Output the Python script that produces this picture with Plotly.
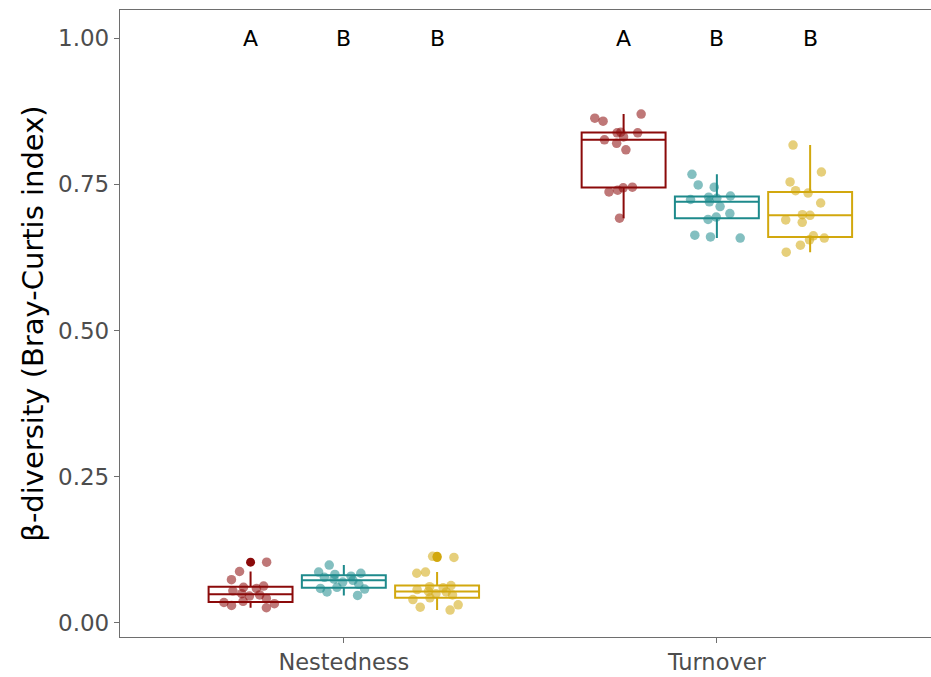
import plotly.graph_objects as go

categories = ["Nestedness", "Turnover"]
group_names = ["Group 1", "Group 2", "Group 3"]
group_colors = ["#8B0A0A", "#1E8A8C", "#D2A80E"]
group_points = ["rgba(139,10,10,0.55)", "rgba(30,138,140,0.55)", "rgba(210,168,14,0.55)"]

# Nestedness values per group
nest_g1 = [0.026, 0.030, 0.033, 0.035, 0.037, 0.042, 0.046, 0.048, 0.050, 0.055,
           0.059, 0.061, 0.063, 0.074, 0.088, 0.104]
nest_g2 = [0.047, 0.053, 0.058, 0.059, 0.061, 0.066, 0.070, 0.073, 0.075, 0.078,
           0.080, 0.083, 0.085, 0.087, 0.099]
nest_g3 = [0.022, 0.027, 0.031, 0.040, 0.043, 0.048, 0.050, 0.053, 0.054, 0.057,
           0.060, 0.062, 0.064, 0.085, 0.087, 0.112, 0.114]
# Turnover values per group
turn_g1 = [0.692, 0.737, 0.740, 0.744, 0.745, 0.809, 0.820, 0.826, 0.831, 0.838,
           0.838, 0.839, 0.858, 0.863, 0.870]
turn_g2 = [0.658, 0.660, 0.663, 0.690, 0.694, 0.700, 0.712, 0.720, 0.724, 0.726,
           0.728, 0.730, 0.745, 0.749, 0.767]
turn_g3 = [0.634, 0.646, 0.655, 0.658, 0.662, 0.685, 0.689, 0.697, 0.698, 0.718,
           0.735, 0.739, 0.754, 0.771, 0.817]

nest_data = [nest_g1, nest_g2, nest_g3]
turn_data = [turn_g1, turn_g2, turn_g3]

letters_nest = ["A", "B", "B"]
letters_turn = ["A", "B", "B"]
letter_y = 1.0

y_ticks = [0.0, 0.25, 0.5, 0.75, 1.0]

FONT = "DejaVu Sans, Liberation Sans, Arial, sans-serif"
dodge = 0.25

fig = go.Figure()
for i in range(3):
    xs = [categories[0]] * len(nest_data[i]) + [categories[1]] * len(turn_data[i])
    ys = nest_data[i] + turn_data[i]
    fig.add_trace(go.Box(
        x=xs, y=ys, name=group_names[i], offsetgroup=str(i),
        boxpoints="outliers", quartilemethod="inclusive",
        line=dict(color=group_colors[i], width=2),
        fillcolor="white", whiskerwidth=0,
        marker=dict(color=group_colors[i], size=9),
        showlegend=False, hoverinfo="skip",
    ))
for i in range(3):
    xs = [categories[0]] * len(nest_data[i]) + [categories[1]] * len(turn_data[i])
    ys = nest_data[i] + turn_data[i]
    fig.add_trace(go.Box(
        x=xs, y=ys, name=group_names[i], offsetgroup=str(i),
        boxpoints="all", jitter=0.75, pointpos=0, quartilemethod="inclusive",
        line=dict(color="rgba(0,0,0,0)", width=0),
        fillcolor="rgba(0,0,0,0)", whiskerwidth=0,
        marker=dict(color=group_points[i], size=9.5),
        showlegend=False, hoverinfo="skip",
    ))

for ci, lets in enumerate([letters_nest, letters_turn]):
    for gi, lt in enumerate(lets):
        fig.add_annotation(x=ci + (gi - 1) * dodge, y=letter_y, text=lt,
                           showarrow=False, xref="x", yref="y",
                           font=dict(family=FONT, size=22, color="black"))

fig.update_layout(
    width=931, height=677,
    margin=dict(l=120, r=0, t=10, b=40),
    paper_bgcolor="white", plot_bgcolor="white",
    boxmode="group", boxgap=0.25, boxgroupgap=0.1,
    font=dict(family=FONT),
)
fig.update_xaxes(
    type="category", categoryorder="array", categoryarray=categories,
    range=[-0.6, 1.574], showgrid=False, zeroline=False,
    showline=True, linecolor="#6E6E6E", linewidth=1.3, mirror=True,
    ticks="outside", ticklen=5, tickcolor="#6E6E6E", tickwidth=1.3,
    tickfont=dict(family=FONT, size=22.5, color="#4D4D4D"),
)
fig.update_yaxes(
    range=[-0.024, 1.048], showgrid=False, zeroline=False,
    tickvals=y_ticks, ticktext=[f"{v:.2f}" for v in y_ticks],
    showline=True, linecolor="#6E6E6E", linewidth=1.3, mirror=False,
    ticks="outside", ticklen=5, tickcolor="#6E6E6E", tickwidth=1.3,
    tickfont=dict(family=FONT, size=23, color="#4D4D4D"),
    title=dict(text="β-diversity (Bray-Curtis index)", standoff=5,
               font=dict(family=FONT, size=29, color="black")),
)
fig.write_html("out.html")
